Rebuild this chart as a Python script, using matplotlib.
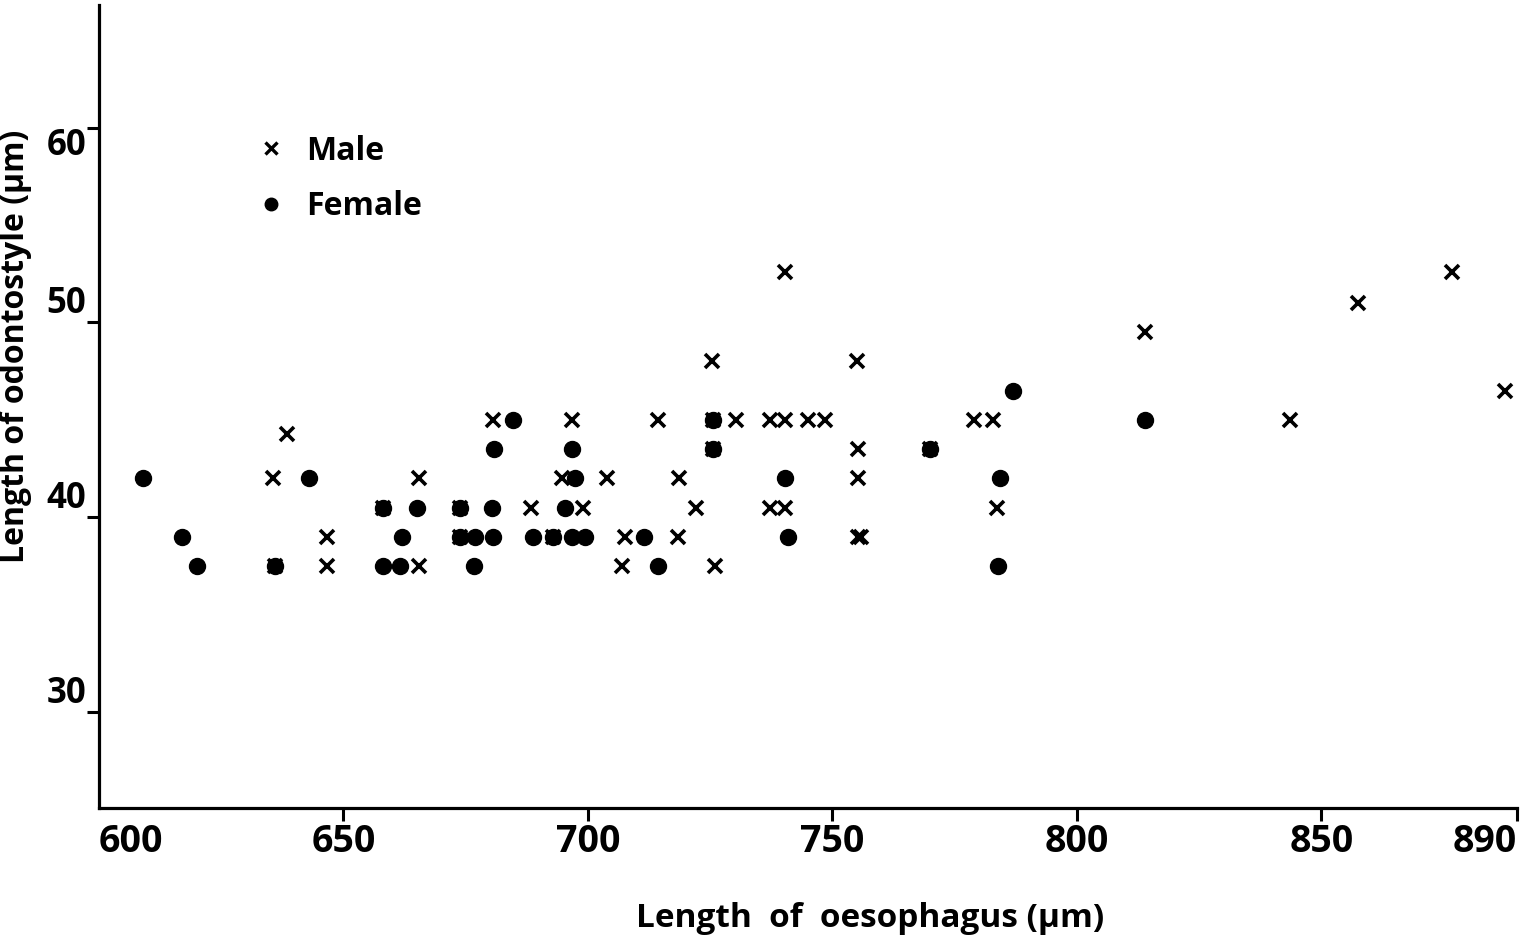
import matplotlib
matplotlib.use("Agg")
import matplotlib.pyplot as plt
from matplotlib.lines import Line2D

plt.rcParams['font.family'] = ['Open Sans', 'DejaVu Sans']

# length of oesophagus (um), length of odontostyle (um)
male_x = [638.5, 635.5, 636, 646.6, 646.6, 665.5, 665.4, 658, 673.8, 673.8,
          692.9, 680.6, 696.7, 714.3, 694.7, 703.9, 718.6, 688.4, 699, 722.1,
          707.6, 718.4, 707, 725.4, 755, 725.6, 730.3, 737.2, 740.3, 745,
          748.5, 779, 782.8, 725.6, 755.2, 770, 755.2, 737.2, 740.3, 783.6,
          755.2, 755.8, 726, 740.3, 813.9, 843.6, 857.5, 876.7, 887.5]
male_y = [44.3, 42, 37.5, 39, 37.5, 42, 37.5, 40.5, 40.5, 39,
          39, 45, 45, 45, 42, 42, 42, 40.5, 40.5, 40.5,
          39, 39, 37.5, 48, 48, 45, 45, 45, 45, 45,
          45, 45, 45, 43.5, 43.5, 43.5, 42, 40.5, 40.5, 40.5,
          39, 39, 37.5, 52.6, 49.5, 45, 51, 52.6, 46.5]

female_x = [609, 643, 658, 665, 617, 620, 636, 662, 658, 661.5,
            684.7, 680.8, 696.7, 697.3, 673.8, 680.4, 695.3, 673.8, 676.9, 680.5,
            688.7, 692.9, 696.7, 699.4, 711.5, 676.7, 714.3, 787, 725.6, 725.6,
            770, 740.3, 784.2, 741, 783.8, 813.9]
female_y = [42, 42, 40.5, 40.5, 39, 37.5, 37.5, 39, 37.5, 37.5,
            45, 43.5, 43.5, 42, 40.5, 40.5, 40.5, 39, 39, 39,
            39, 39, 39, 39, 39, 37.5, 37.5, 46.5, 45, 43.5,
            43.5, 42, 42, 39, 37.5, 45]

x_ticks = [600, 650, 700, 750, 800, 850, 890]
y_ticks = [30, 40, 50, 60]

fig = plt.figure(figsize=(15.39, 9.46), dpi=100)
ax = fig.add_axes([0.0643, 0.146, 0.9214, 0.849])

ax.plot(female_x, female_y, 'o', color='black', markersize=11.5, linestyle='none')
ax.plot(male_x, male_y, 'x', color='black', markersize=10, markeredgewidth=2.6,
        linestyle='none')

ax.set_xlim(600, 890)
ax.set_ylim(25.1, 66.3)

for s in ['top', 'right']:
    ax.spines[s].set_visible(False)
for s in ['left', 'bottom']:
    ax.spines[s].set_linewidth(2.3)

ax.set_xticks(x_ticks)
ax.set_xticklabels([str(v) for v in x_ticks])
ax.set_yticks(y_ticks)
ax.set_yticklabels([str(v) for v in y_ticks])
ax.tick_params(axis='x', direction='out', length=9, width=2.2, pad=2,
               labelsize=27)
ax.tick_params(axis='y', direction='out', length=9, width=2.2, pad=0,
               labelsize=25)
for lab in ax.get_xticklabels() + ax.get_yticklabels():
    lab.set_fontweight('bold')

xt = ax.xaxis.get_major_ticks()
xt[0].tick1line.set_visible(False)
ax.get_xticklabels()[0].set_horizontalalignment('left')
ax.get_xticklabels()[-1].set_horizontalalignment('right')
for lab in ax.get_yticklabels():
    lab.set_verticalalignment('bottom')
ax.get_yticklabels()[-1].set_verticalalignment('top')

ax.set_xlabel('Length  of  oesophagus (\u00b5m)', fontsize=24,
              fontweight='bold')
ax.xaxis.set_label_coords(0.544, -0.117)
ax.set_ylabel('Length of odontostyle (\u00b5m)', fontsize=23,
              fontweight='bold')
ax.yaxis.set_label_coords(-0.047, 0.574)

handles = [
    Line2D([], [], marker='x', color='black', linestyle='none', markersize=8,
           markeredgewidth=2.4),
    Line2D([], [], marker='o', color='black', linestyle='none', markersize=9),
]
ax.legend(handles, ['Male', 'Female'], loc='upper left',
          bbox_to_anchor=(0.09, 0.874), frameon=False, handlelength=1.0,
          handletextpad=0.6, labelspacing=0.7,
          prop={'size': 23, 'weight': 'bold'})

fig.savefig('out.png', dpi=100)
